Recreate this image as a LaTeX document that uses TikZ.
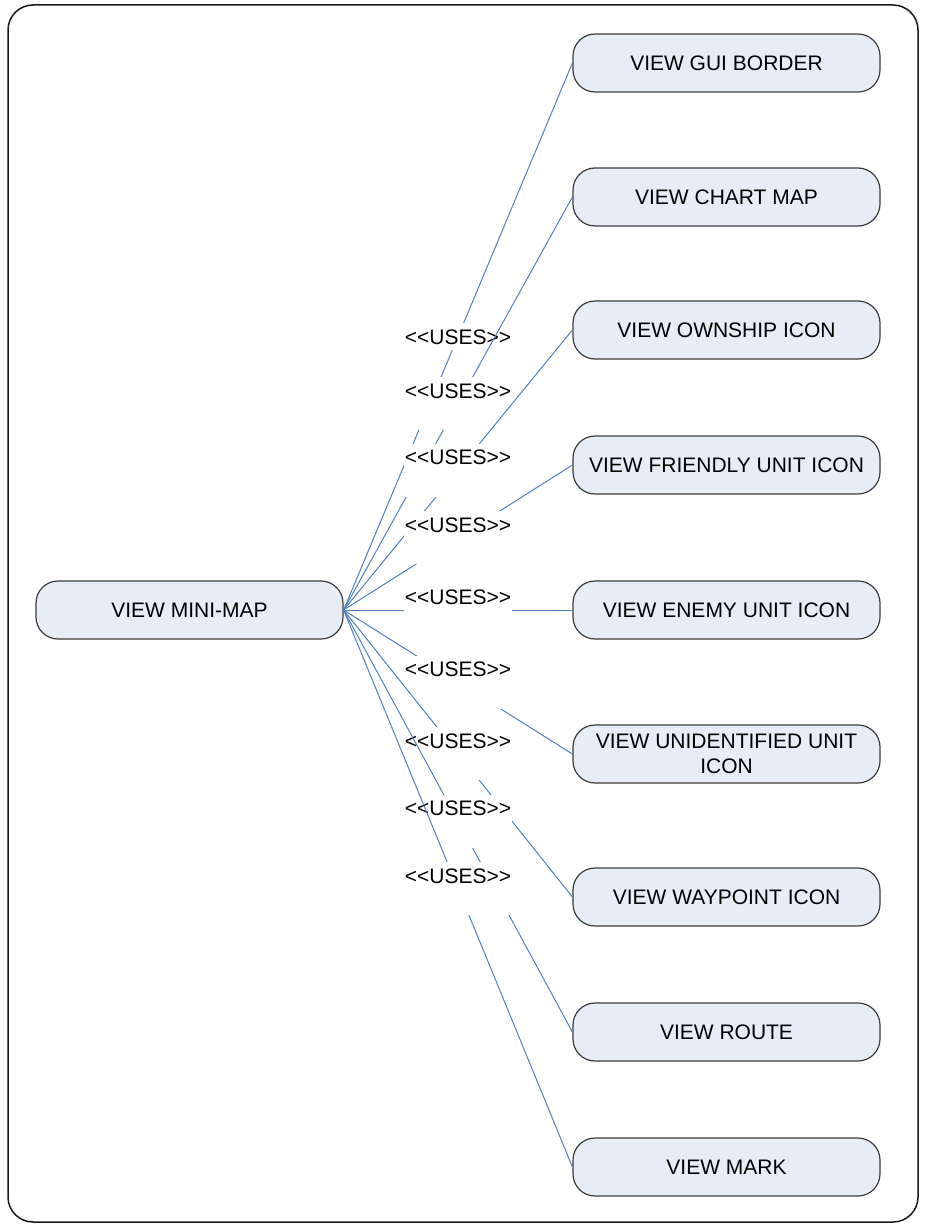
\documentclass[tikz,border=0pt]{standalone}
\usepackage{fontspec}
\setmainfont{Liberation Sans}
\definecolor{ucfill}{RGB}{231,237,247}
\definecolor{ucline}{RGB}{60,60,60}
\definecolor{link}{RGB}{79,129,189}
\newcommand{\usestext}{<\kern0pt<USES>\kern0pt>}
\begin{document}
\begin{tikzpicture}[x=1pt,y=-1pt,
  usecase/.style={draw=ucline, line width=1.2pt, fill=ucfill, rounded corners=22pt,
    minimum width=307pt, minimum height=58pt, inner sep=0pt, align=center,
    font=\fontsize{21}{25.5}\selectfont},
  uses/.style={draw=link, line width=1pt},
  usestag/.style={fill=white, inner sep=0pt, minimum width=108pt,
    text height=21pt, text depth=32pt, font=\fontsize{21}{25.5}\selectfont},
  usestagone/.style={usestag, text height=21.5pt, text depth=5.5pt}]
\useasboundingbox (0,0) rectangle (924,1228);
% outer frame
\draw[line width=1.5pt, rounded corners=25pt, color=black!90] (8,5) rectangle (918,1222);

% use cases
\node[usecase] (mini) at (189.5,610) {VIEW MINI-MAP};
\node[usecase] (gui)   at (726.5,63)   {VIEW GUI BORDER};
\node[usecase] (chart) at (726.5,197)  {VIEW CHART MAP};
\node[usecase] (own)   at (726.5,330)  {VIEW OWNSHIP ICON};
\node[usecase] (friend) at (726.5,465) {VIEW FRIENDLY UNIT ICON};
\node[usecase] (enemy) at (726.5,610)  {VIEW ENEMY UNIT ICON};
\node[usecase] (unid)  at (726.5,754)  {VIEW UNIDENTIFIED UNIT\\ICON};
\node[usecase] (wp)    at (726.5,897)  {VIEW WAYPOINT ICON};
\node[usecase] (route) at (726.5,1032) {VIEW ROUTE};
\node[usecase] (mark)  at (726.5,1167) {VIEW MARK};

% <<uses>> relations, each label drawn right after its own line
\draw[uses] (mini.east) -- (gui.west)    node[usestagone, pos=.5] {\usestext};
\draw[uses] (mini.east) -- (chart.west)  node[usestag, pos=.5] {\usestext};
\draw[uses] (mini.east) -- (own.west)    node[usestag, pos=.5] {\usestext};
\draw[uses] (mini.east) -- (friend.west) node[usestag, pos=.5] {\usestext};
\draw[uses] (mini.east) -- (enemy.west)  node[usestag, pos=.5] {\usestext};
\draw[uses] (mini.east) -- (unid.west)   node[usestag, pos=.5] {\usestext};
\draw[uses] (mini.east) -- (wp.west)     node[usestag, pos=.5] {\usestext};
\draw[uses] (mini.east) -- (route.west)  node[usestag, pos=.5] {\usestext};
\draw[uses] (mini.east) -- (mark.west)   node[usestag, pos=.5] {\usestext};
\end{tikzpicture}
\end{document}
